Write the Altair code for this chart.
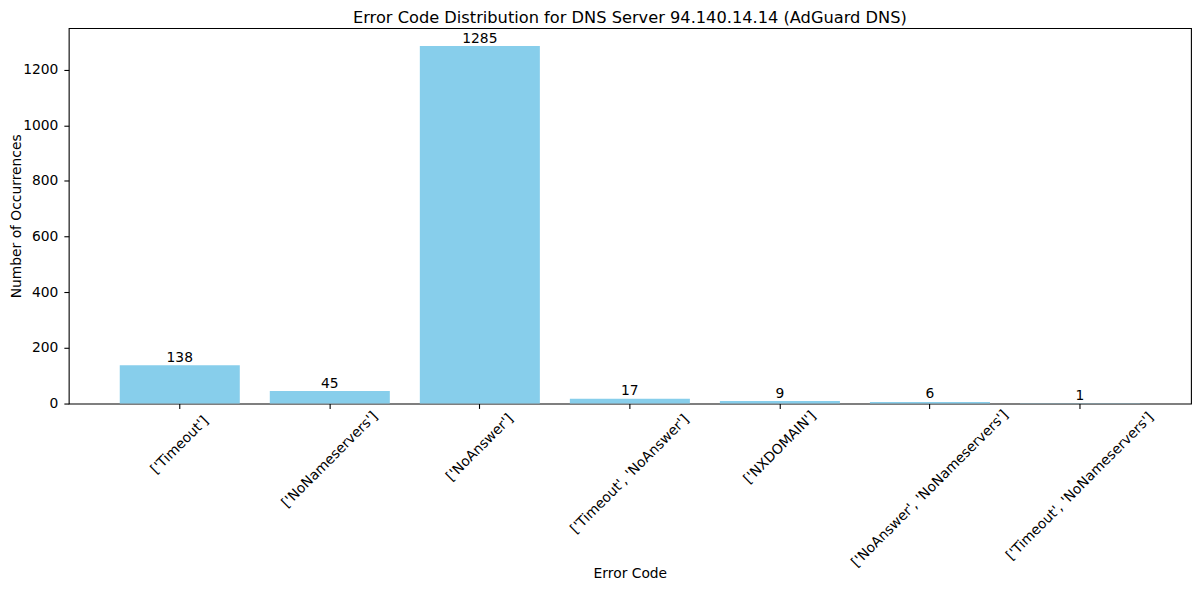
import altair as alt
import pandas as pd

codes = [
    "['Timeout']",
    "['NoNameservers']",
    "['NoAnswer']",
    "['Timeout', 'NoAnswer']",
    "['NXDOMAIN']",
    "['NoAnswer', 'NoNameservers']",
    "['Timeout', 'NoNameservers']",
]
counts = [138, 45, 1285, 17, 9, 6, 1]
y_ticks = [0, 200, 400, 600, 800, 1000, 1200]

df = pd.DataFrame({"code": codes, "count": counts})

FONT = "DejaVu Sans"
FS = 13.9
W = 1127

x_enc = alt.X(
    "code:N",
    sort=None,
    title="Error Code",
    scale=alt.Scale(paddingInner=0.2, paddingOuter=0.34),
    axis=alt.Axis(
        labelAngle=-45,
        labelAlign="center",
        labelBaseline="middle",
        labelPadding={"expr": "4 + (length(datum.label) * 6.9 + 16) / 2.828"},
        labelOverlap=False,
        labelLimit=400,
        labelFont=FONT,
        labelFontSize=FS,
        labelColor="black",
        tickColor="black",
        tickSize=4.9,
        tickWidth=1.1,
        domain=False,
        grid=False,
        titleFont=FONT,
        titleFontSize=FS,
        titleFontWeight="normal",
        titleColor="black",
        titleBaseline="alphabetic",
        titleX=W / 2,
        titleY=175,
    ),
)

y_enc = alt.Y(
    "count:Q",
    title="Number of Occurrences",
    scale=alt.Scale(domain=[0, 1349.25], nice=False, zero=True),
    axis=alt.Axis(
        values=y_ticks,
        format="d",
        labelFont=FONT,
        labelFontSize=FS,
        labelColor="black",
        labelPadding=6,
        tickColor="black",
        tickSize=4.9,
        tickWidth=1.1,
        domain=False,
        grid=False,
        titleFont=FONT,
        titleFontSize=FS,
        titleFontWeight="normal",
        titleColor="black",
        titleBaseline="middle",
        titleX=-52,
        titleY=188.5,
    ),
)

bars = alt.Chart(df).mark_bar(color="#87CEEB").encode(x=x_enc, y=y_enc)

texts = alt.Chart(df).mark_text(
    font=FONT, fontSize=FS, color="black", baseline="alphabetic", dy=-3.5
).encode(x=alt.X("code:N", sort=None), y="count:Q", text="count:Q")

chart = (
    alt.layer(bars, texts)
    .properties(
        width=W,
        height=377,
        padding={"left": 61, "top": 19, "right": 1, "bottom": 180},
        autosize=alt.AutoSizeParams(type="none"),
        title=alt.TitleParams(
            "Error Code Distribution for DNS Server 94.140.14.14 (AdGuard DNS)",
            font=FONT,
            fontSize=16.3,
            fontWeight="normal",
            color="black",
            anchor="middle",
            offset=2,
        ),
    )
    .configure_view(stroke="black", strokeWidth=1.1)
)

chart.save("out.html", embed_options={"renderer": "svg", "actions": False})
